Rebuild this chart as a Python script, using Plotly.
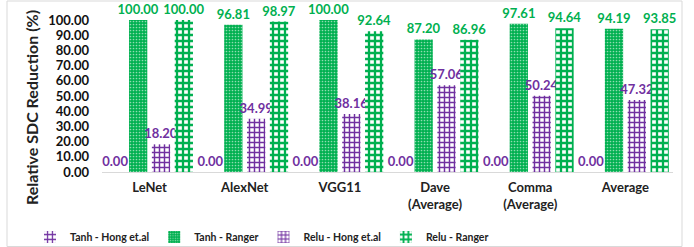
import plotly.graph_objects as go

categories = ["LeNet", "AlexNet", "VGG11", "Dave<br>(Average)", "Comma<br>(Average)", "Average"]
tanh_hong = [0.00, 0.00, 0.00, 0.00, 0.00, 0.00]
tanh_ranger = [100.00, 96.81, 100.00, 87.20, 97.61, 94.19]
relu_hong = [18.20, 34.99, 38.16, 57.06, 50.24, 47.32]
relu_ranger = [100.00, 98.97, 92.64, 86.96, 94.64, 93.85]
y_ticks = [0, 10, 20, 30, 40, 50, 60, 70, 80, 90, 100]

GREEN = "#00B050"
PURPLE = "#7030A0"
FONT = "Lato"

W, H = 694, 247
ML, MR, MT, MB = 102, 21, 20, 75
PW, PH = W - ML - MR, H - MT - MB


def px_x(p):
    return (p - ML) / PW


def px_y(p):
    return (H - MB - p) / PH


def bar(name, vals, color, shape, fg, bg, size, solidity):
    return go.Bar(
        name=name, x=categories, y=vals,
        marker=dict(color=bg, line=dict(width=0),
                    pattern=dict(shape=shape, fgcolor=fg, bgcolor=bg, size=size,
                                 solidity=solidity, fillmode="replace")),
        text=[f"{v:.2f}" for v in vals], textposition="outside",
        constraintext="none",
        textfont=dict(family=FONT, size=13, color=color, weight="bold"),
        cliponaxis=False,
    )


fig = go.Figure()
fig.add_trace(bar("Tanh - Hong et.al", tanh_hong, PURPLE, "+", PURPLE, "white", 6, 0.45))
fig.add_trace(bar("Tanh - Ranger", tanh_ranger, GREEN, ".", "#8fdcb0", GREEN, 3, 0.25))
fig.add_trace(bar("Relu - Hong et.al", relu_hong, PURPLE, "+", PURPLE, "white", 5, 0.5))
fig.add_trace(bar("Relu - Ranger", relu_ranger, GREEN, "+", GREEN, "white", 6, 0.62))

fig.update_layout(
    width=W, height=H,
    margin=dict(l=ML, r=MR, t=MT, b=MB, autoexpand=False),
    paper_bgcolor="white", plot_bgcolor="white",
    barmode="group", bargap=0.04, bargroupgap=0.2,
    showlegend=True,
    legend=dict(orientation="h", x=px_x(262), xanchor="center", y=px_y(237), yanchor="middle",
                font=dict(family=FONT, size=10.5, color="#222222", weight="bold"),
                itemwidth=30, bgcolor="rgba(0,0,0,0)"),
    xaxis=dict(showline=True, linecolor="#d9d9d9", linewidth=1, ticks="",
               automargin=False, ticklabelstandoff=3,
               tickfont=dict(family=FONT, size=13, color="#222222", weight="bold"),
               showgrid=False, zeroline=False),
    yaxis=dict(range=[0, 100], tickvals=y_ticks, ticktext=[f"{v:.2f}" for v in y_ticks],
               automargin=False, ticklabelstandoff=12,
               showgrid=False, zeroline=False, showline=False, ticks="",
               tickfont=dict(family=FONT, size=13, color="#111111", weight="bold")),
    font=dict(family=FONT),
)

fig.add_annotation(text="Relative SDC Reduction (%)", textangle=-90,
                   xref="paper", yref="paper", x=px_x(31), y=px_y(108),
                   xanchor="center", yanchor="middle", showarrow=False,
                   font=dict(family=FONT, size=16, color="#222222", weight="bold"))

fig.add_shape(type="rect", xref="paper", yref="paper",
              x0=px_x(7), x1=px_x(682), y0=px_y(246.5), y1=px_y(1),
              line=dict(color="#d9d9d9", width=1), layer="below")

fig.write_html("out.html", config={"displayModeBar": False},
               post_script="document.body.style.margin='0';document.body.style.overflow='hidden';")
